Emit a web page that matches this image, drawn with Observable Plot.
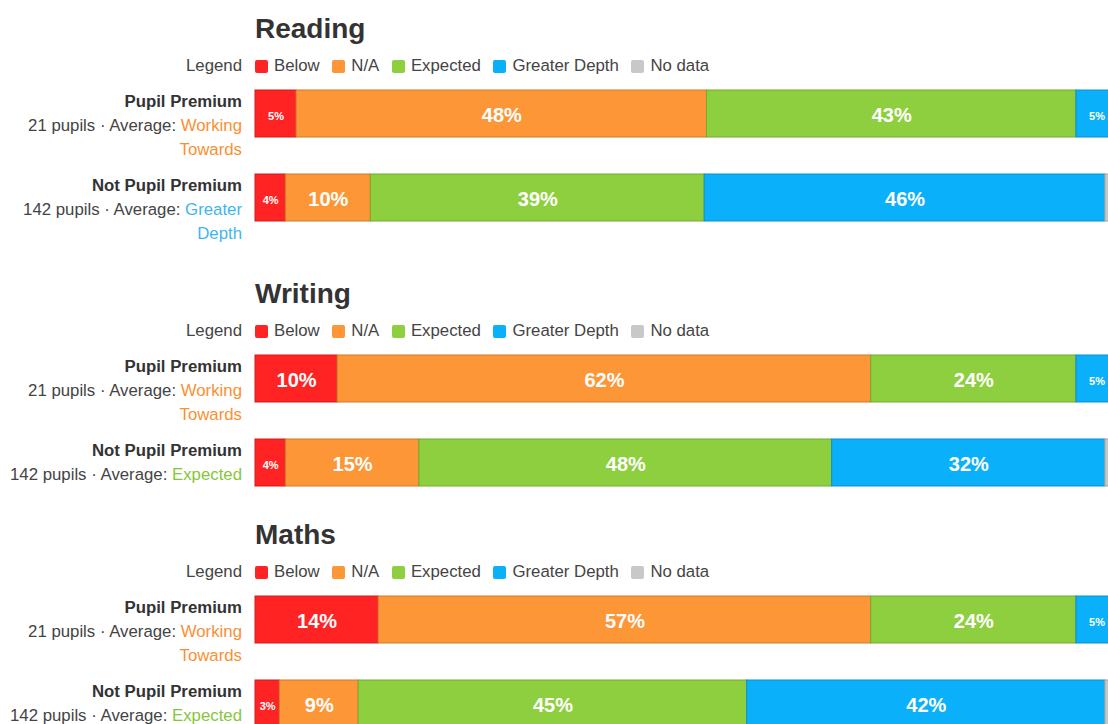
<!DOCTYPE html>
<html>
<head>
<meta charset="utf-8">
<script src="https://cdn.jsdelivr.net/npm/d3@7"></script>
<script src="https://cdn.jsdelivr.net/npm/@observablehq/plot@0.6"></script>
<style>
html, body { margin: 0; padding: 0; overflow: hidden; background: #fff; }
body { width: 1130px; font-family: "Liberation Sans", Arial, Helvetica, sans-serif; color: #444; }
.section { padding-top: 12px; padding-bottom: 7px; }
.title { margin-left: 255px; font-size: 28px; font-weight: bold; line-height: 34px; color: #333; }
.legend-row { display: flex; align-items: center; margin-top: 8px; height: 24px; font-size: 16.8px; }
.legend-label { width: 242px; text-align: right; margin-right: 13px; line-height: 24px; color: #444; }
.rows { margin-top: 12px; }
.row { display: flex; align-items: flex-start; margin-bottom: 12px; }
.row-label { width: 240px; padding-left: 2px; text-align: right; margin-right: 13px; font-size: 16.8px; line-height: 24px; color: #444; }
.row-label b { color: #333; }
.lg-swatches { font-size: 16.8px !important; font-family: "Liberation Sans", Arial, sans-serif !important; margin: 0 !important; min-height: 0 !important; color: #444 !important; }
.lg-swatch { margin-right: 12.6px !important; }
.lg-swatch > svg { margin-right: 6px !important; }
.lg-swatch rect { rx: 2px; ry: 2px; }
</style>
</head>
<body>
<div id="root"></div>
<script>
// ---- data ----
const subjects = ["Reading", "Writing", "Maths"];
const categories = ["Below", "N/A", "Expected", "Greater Depth", "No data"];
const categoryColors = ["#ff2323", "#fd9636", "#8dcf3e", "#0bb0fa", "#c8c8c8"];
const groups = ["Pupil Premium", "Not Pupil Premium"];
const pupils = [21, 142];
const averageLabels = ["Working Towards", "Expected", "Greater Depth"];
const averageColors = ["#fb8f33", "#86c63c", "#3fb6ee"];
// average attainment per subject: [Pupil Premium, Not Pupil Premium]
const readingAverage = ["Working Towards", "Greater Depth"];
const writingAverage = ["Working Towards", "Expected"];
const mathsAverage = ["Working Towards", "Expected"];
// pupil counts per category: Below, N/A, Expected, Greater Depth, No data
const readingPP = [1, 10, 9, 1, 0];
const readingNPP = [5, 14, 55, 66, 2];
const writingPP = [2, 13, 5, 1, 0];
const writingNPP = [5, 22, 68, 45, 2];
const mathsPP = [3, 12, 5, 1, 0];
const mathsNPP = [4, 13, 64, 59, 2];

const subjectData = [
  {averages: readingAverage, counts: [readingPP, readingNPP]},
  {averages: writingAverage, counts: [writingPP, writingNPP]},
  {averages: mathsAverage, counts: [mathsPP, mathsNPP]}
];

const edgeColors = categoryColors.map(c => d3.color(c).darker(0.55).formatHex());
const colorDomain = [...categories, ...categories.map(c => c + " edge")];
const colorRange = [...categoryColors, ...edgeColors];
const avgColor = d3.scaleOrdinal(averageLabels, averageColors);

const root = document.getElementById("root");

subjects.forEach((subject, si) => {
  const sec = document.createElement("div");
  sec.className = "section";
  const title = document.createElement("div");
  title.className = "title";
  title.textContent = subject;
  sec.appendChild(title);

  const lrow = document.createElement("div");
  lrow.className = "legend-row";
  const ll = document.createElement("div");
  ll.className = "legend-label";
  ll.textContent = "Legend";
  lrow.appendChild(ll);
  lrow.appendChild(Plot.legend({
    color: {type: "ordinal", domain: categories, range: categoryColors},
    legend: "swatches",
    swatchSize: 13,
    className: "lg"
  }));
  sec.appendChild(lrow);

  const rowsDiv = document.createElement("div");
  rowsDiv.className = "rows";
  groups.forEach((g, gi) => {
    const counts = subjectData[si].counts[gi];
    const total = pupils[gi];
    const avg = subjectData[si].averages[gi];
    const rows = categories.map((c, ci) => ({cat: c, n: counts[ci]})).filter(d => d.n > 0);
    const pct = d => Math.round(d.n / total * 100);

    const row = document.createElement("div");
    row.className = "row";
    const lab = document.createElement("div");
    lab.className = "row-label";
    lab.innerHTML = `<b>${g}</b><br>${total} pupils · Average: <span style="color:${avgColor(avg)}">${avg}</span>`;
    row.appendChild(lab);

    const plot = Plot.plot({
      width: 862,
      height: 47,
      margin: 0,
      x: {domain: [0, total], axis: null},
      color: {domain: colorDomain, range: colorRange},
      style: {overflow: "visible", maxWidth: "none", background: "transparent"},
      marks: [
        Plot.barX(rows, Plot.stackX({x: "n", fill: "cat", stroke: d => d.cat + " edge", strokeWidth: 1})),
        Plot.text(rows.filter(d => d.cat !== "No data"), Plot.stackX({
          x: "n",
          text: d => pct(d) + "%",
          fill: "white",
          fontSize: d => pct(d) < 7 ? 11 : 20,
          fontWeight: "bold",
          fontFamily: "Liberation Sans, Arial, sans-serif",
          dy: 2
        }))
      ]
    });
    row.appendChild(plot);
    rowsDiv.appendChild(row);
  });
  sec.appendChild(rowsDiv);
  root.appendChild(sec);
});
</script>
</body>
</html>
